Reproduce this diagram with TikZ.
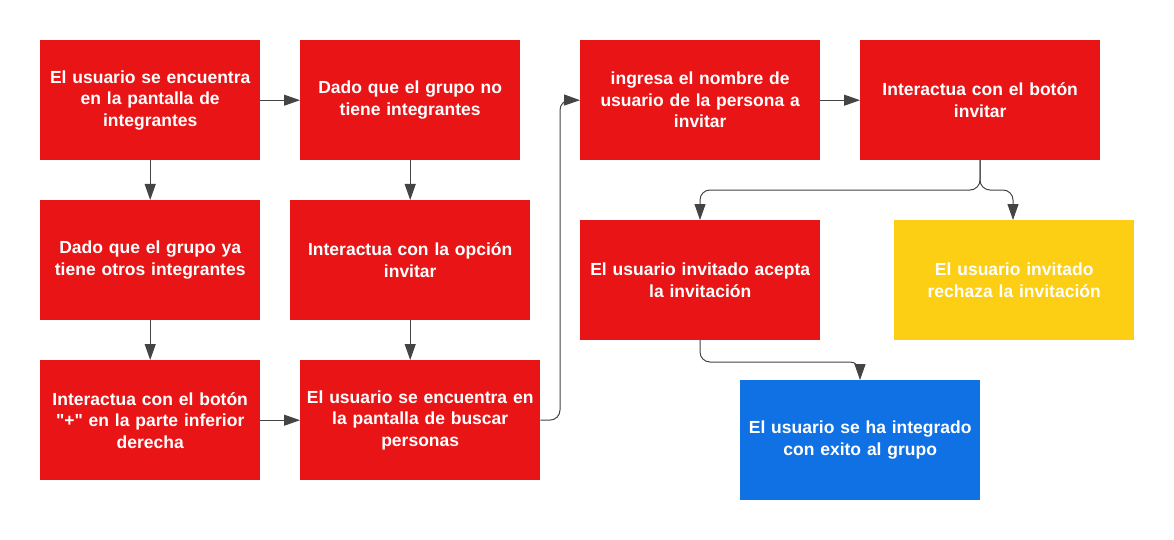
\documentclass[tikz,border=0pt]{standalone}
\usepackage{fontspec}
\setmainfont{Liberation Sans}
\newfontfamily\boxfont{Liberation Sans}
\usetikzlibrary{arrows.meta}
\definecolor{boxred}{HTML}{E81416}
\definecolor{boxyellow}{HTML}{FCCE14}
\definecolor{boxblue}{HTML}{1071E5}
\definecolor{linecol}{HTML}{444444}
\begin{document}
\begin{tikzpicture}[x=1pt,y=-1pt,
  box/.style={fill=boxred, draw=none, minimum width=220pt, minimum height=120pt,
    text width=216pt, align=center, inner sep=0pt, text=white,
    font=\boxfont\fontsize{17.5}{21.5}\selectfont\bfseries, anchor=north west},
  widebox/.style={box, minimum width=240pt, text width=236pt},
  conn/.style={draw=linecol, line width=1pt, rounded corners=10pt,
    -{Triangle[length=16pt,width=11pt]}}]
\useasboundingbox (0,0) rectangle (1174,540);
\node[box] (A) at (40,40) {El usuario se encuentra\\en la pantalla de\\integrantes};
\node[box] (B) at (300,40) {Dado que el grupo no\\tiene integrantes};
\node[box] (C) at (40,200) {Dado que el grupo ya\\tiene otros integrantes};
\node[widebox] (D) at (290,200) {Interactua con la opción\\invitar};
\node[box] (E) at (40,360) {Interactua con el botón\\"+" en la parte inferior\\derecha};
\node[widebox] (F) at (300,360) {El usuario se encuentra en\\la pantalla de buscar\\personas};
\node[widebox] (G) at (580,40) {ingresa el nombre de\\usuario de la persona a\\invitar};
\node[widebox] (H) at (860,40) {Interactua con el botón\\invitar};
\node[widebox] (I) at (580,220) {El usuario invitado acepta\\la invitación};
\node[widebox, fill=boxyellow] (J) at (894,220) {El usuario invitado\\rechaza la invitación};
\node[widebox, fill=boxblue] (K) at (740,380) {El usuario se ha integrado\\con exito al grupo};
\coordinate (Hb) at (980,160);
\coordinate (Ib) at (700,340);
\draw[conn] (A.east) -- (B.west);
\draw[conn] (A.south) -- (C.north);
\draw[conn] (B.south) -- (B.south |- D.north);
\draw[conn] (C.south) -- (E.north);
\draw[conn] (D.south) -- (D.south |- F.north);
\draw[conn] (E.east) -- (F.west);
\draw[conn] (F.east) -- (560,420) -- (560,100) -- (G.west);
\draw[conn] (G.east) -- (H.west);
\draw[conn] (Hb) -- (980,190) -- (700,190) -- (700,220);
\draw[conn] (Hb) -- (980,190) -- (1013,190) -- (1013,220);
\draw[conn] (Ib) -- (700,362) -- (860,362) -- (860,380);
\end{tikzpicture}
\end{document}
